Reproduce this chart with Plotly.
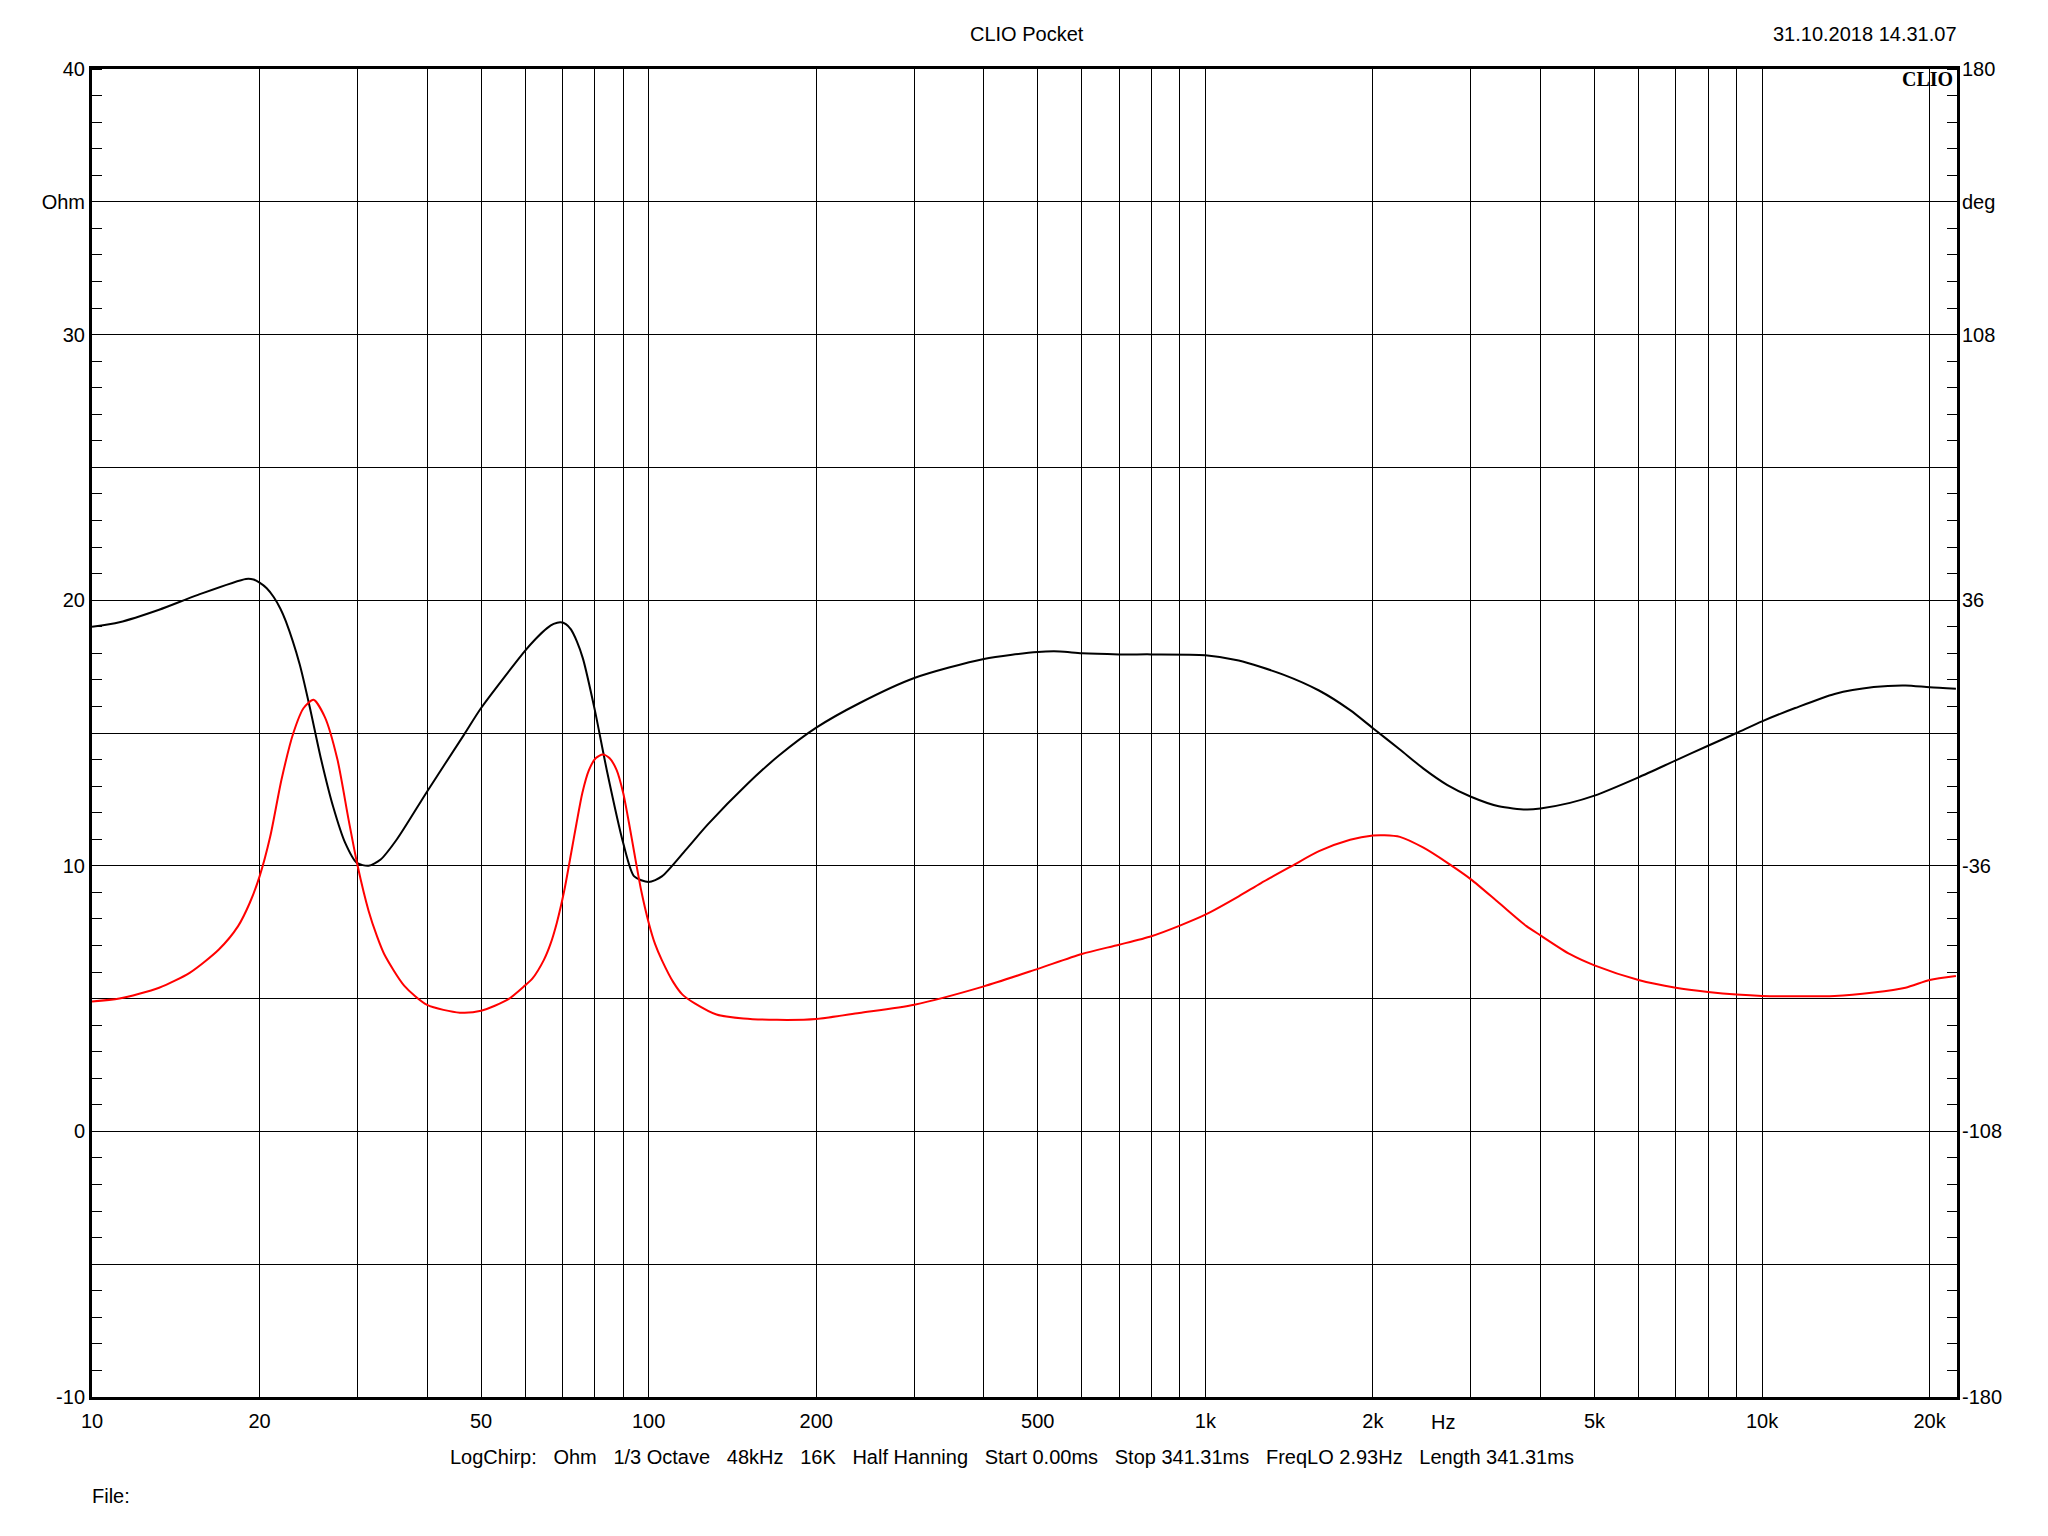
import math
import plotly.graph_objects as go

# ---- data (frequency in Hz, impedance in Ohm) ----
freq_black = [10, 11.2, 13.2, 15.5, 18.9, 19.5, 20, 20.6, 21.2, 21.8, 22.3, 23.6, 24.6, 25.8,
              27.1, 28.5, 29.9, 31.4, 33.0, 35.3, 40, 46.6, 50, 60, 62.7, 65.7, 67.5, 69.5,
              71, 72.5, 74.3, 76.2, 80, 84.1, 90, 94.2, 100, 105.6, 116.6, 127.6, 150.7,
              171.4, 200, 239, 300, 400, 500, 548, 600, 700, 800, 1000, 1148, 1380, 1600,
              1820, 2000, 2236, 2465, 2722, 3000, 3366, 3774, 4000, 4519, 5000, 6000, 7000,
              8000, 9000, 10000, 11470, 13500, 15870, 18100, 20000, 22300]
ohm_black = [19.0, 19.17, 19.64, 20.2, 20.8, 20.78, 20.66, 20.45, 20.12, 19.68, 19.2, 17.6,
             16.0, 14.0, 12.24, 10.86, 10.11, 10.0, 10.24, 11.0, 12.8, 14.94, 15.94, 18.1,
             18.55, 18.95, 19.11, 19.17, 19.1, 18.9, 18.45, 17.8, 15.88, 13.6, 10.86, 9.6,
             9.39, 9.6, 10.6, 11.55, 13.1, 14.15, 15.2, 16.12, 17.07, 17.79, 18.05, 18.07,
             18.0, 17.96, 17.96, 17.93, 17.73, 17.2, 16.6, 15.86, 15.18, 14.38, 13.66, 13.04,
             12.6, 12.24, 12.12, 12.16, 12.37, 12.64, 13.33, 13.97, 14.52, 15.0, 15.44,
             15.94, 16.47, 16.73, 16.79, 16.72, 16.67]

freq_red = [10, 11.2, 13.2, 15.0, 16.9, 18.3, 19.2, 20, 20.9, 21.9, 23.0, 24.0, 25.0, 26.2,
            27.6, 28.9, 30, 31.4, 32.5, 33.5, 36.4, 40, 45.8, 50, 55.9, 60, 61.8, 64.8, 66.6,
            68.4, 70.5, 72.6, 74.2, 76.0, 78.1, 80.3, 82.7, 85.1, 87.6, 90, 92.2, 94.2, 97,
            100, 102.7, 105.6, 110.7, 115, 121, 132.4, 148, 170, 200, 239, 300, 400, 500,
            600, 700, 800, 900, 1000, 1148, 1259, 1432, 1600, 1820, 2000, 2098, 2236, 2465,
            2722, 3000, 3366, 3774, 4000, 4519, 5000, 6000, 7000, 8000, 9000, 10000, 13500,
            15870, 18100, 20000, 22300]
ohm_red = [4.89, 5.0, 5.41, 5.98, 6.85, 7.73, 8.6, 9.6, 11.1, 13.25, 15.0, 15.94, 16.25, 15.6,
           14.0, 11.74, 10.0, 8.3, 7.35, 6.67, 5.48, 4.76, 4.47, 4.54, 4.97, 5.5, 5.75, 6.45,
           7.05, 7.86, 9.05, 10.5, 11.6, 12.74, 13.6, 14.05, 14.19, 14.05, 13.6, 12.74,
           11.6, 10.5, 9.05, 7.86, 7.05, 6.45, 5.62, 5.15, 4.82, 4.4, 4.25, 4.2, 4.23, 4.46,
           4.77, 5.46, 6.12, 6.68, 7.03, 7.35, 7.75, 8.16, 8.85, 9.35, 10.0, 10.55, 10.98,
           11.14, 11.15, 11.09, 10.68, 10.11, 9.49, 8.61, 7.73, 7.38, 6.67, 6.25, 5.70,
           5.41, 5.25, 5.15, 5.10, 5.10, 5.23, 5.41, 5.70, 5.85]

# ---- axis ticks ----
x_grid = [10, 20, 30, 40, 50, 60, 70, 80, 90,
          100, 200, 300, 400, 500, 600, 700, 800, 900,
          1000, 2000, 3000, 4000, 5000, 6000, 7000, 8000, 9000,
          10000, 20000]
x_labels = {10: "10", 20: "20", 50: "50", 100: "100", 200: "200", 500: "500",
            1000: "1k", 2000: "2k", 5000: "5k", 10000: "10k", 20000: "20k"}
y_ticks = [-10, -5, 0, 5, 10, 15, 20, 25, 30, 35, 40]
y_labels = ["-10", "", "0", "", "10", "", "20", "", "30", "Ohm", "40"]
y2_ticks = [-180, -144, -108, -72, -36, 0, 36, 72, 108, 144, 180]
y2_labels = ["-180", "", "-108", "", "-36", "", "36", "", "108", "deg", "180"]

FONT = "Liberation Sans, Arial, sans-serif"
FS = 20

fig = go.Figure()
fig.add_trace(go.Scatter(x=freq_black, y=ohm_black, mode="lines",
                         line=dict(color="#000000", width=2, shape="spline", smoothing=0.7),
                         showlegend=False, hoverinfo="skip"))
fig.add_trace(go.Scatter(x=freq_red, y=ohm_red, mode="lines",
                         line=dict(color="#ff0000", width=2, shape="spline", smoothing=0.7),
                         showlegend=False, hoverinfo="skip"))
# phase scale (right axis) – invisible anchor trace
fig.add_trace(go.Scatter(x=[10], y=[0], yaxis="y2", mode="markers",
                         marker=dict(opacity=0), showlegend=False, hoverinfo="skip"))

fig.update_layout(
    width=2032, height=1520,
    margin=dict(l=84, r=83, t=61, b=131),
    paper_bgcolor="white", plot_bgcolor="white",
    font=dict(family=FONT, size=FS, color="black"),
    xaxis=dict(type="log", range=[1, math.log10(22400)],
               tickmode="array", tickvals=x_grid,
               ticktext=[x_labels.get(v, "") for v in x_grid],
               showgrid=True, gridcolor="black", gridwidth=1,
               showline=True, linecolor="black", linewidth=3, mirror=True,
               ticks="", zeroline=False, ticklabelstandoff=4,
               tickfont=dict(family=FONT, size=FS, color="black")),
    yaxis=dict(range=[-10, 40], tickmode="array", tickvals=y_ticks, ticktext=y_labels,
               showgrid=True, gridcolor="black", gridwidth=1,
               showline=True, linecolor="black", linewidth=3, mirror=True,
               ticks="", zeroline=False, ticklabelstandoff=0,
               minor=dict(tickmode="linear", tick0=0, dtick=1, ticks="inside",
                          ticklen=10, tickcolor="black", tickwidth=1, showgrid=False),
               tickfont=dict(family=FONT, size=FS, color="black")),
    yaxis2=dict(range=[-180, 180], overlaying="y", side="right",
                tickmode="array", tickvals=y2_ticks, ticktext=y2_labels,
                showgrid=False, zeroline=False, showline=False, ticks="",
                ticklabelstandoff=4,
                minor=dict(tickmode="linear", tick0=-180, dtick=7.2, ticks="inside",
                           ticklen=10, tickcolor="black", tickwidth=1, showgrid=False),
                tickfont=dict(family=FONT, size=FS, color="black")),
)

NB = "\u00a0\u00a0\u00a0"
footer = NB.join(["LogChirp:", "Ohm", "1/3 Octave", "48kHz", "16K", "Half Hanning",
                  "Start 0.00ms", "Stop 341.31ms", "FreqLO 2.93Hz", "Length 341.31ms"])

ann = [
    dict(text="CLIO Pocket", x=0.5015, y=1.0264, xanchor="center", yanchor="middle"),
    dict(text="31.10.2018 14.31.07", x=1.001, y=1.0264, xanchor="right", yanchor="middle"),
    dict(text="<b>CLIO</b>", x=0.9989, y=0.9925, xanchor="right", yanchor="middle",
         font=dict(family="Liberation Serif, Times New Roman, serif", size=20, color="black")),
    dict(text="Hz", x=0.7245, y=-0.0188, xanchor="center", yanchor="middle"),
    dict(text=footer, x=0.4935, y=-0.0452, xanchor="center", yanchor="middle"),
    dict(text="File:", x=-0.001, y=-0.0745, xanchor="left", yanchor="middle"),
]
for a in ann:
    a.update(xref="paper", yref="paper", showarrow=False)
    a.setdefault("font", dict(family=FONT, size=FS, color="black"))
fig.update_layout(annotations=ann)

fig.write_html("out.html")
